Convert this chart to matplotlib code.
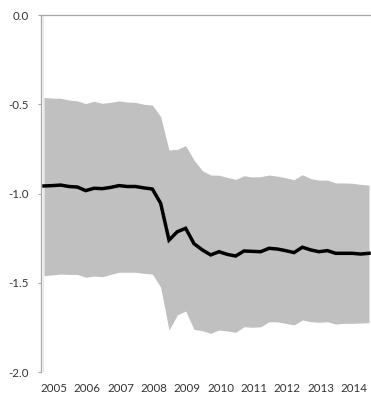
import numpy as np
import matplotlib
matplotlib.use("Agg")
import matplotlib.pyplot as plt

# Quarterly estimates with an uncertainty band
central = [-0.957, -0.955, -0.952, -0.960, -0.963, -0.983, -0.970, -0.972, -0.965, -0.955,
           -0.960, -0.960, -0.968, -0.974, -1.054, -1.260, -1.213, -1.194, -1.280, -1.315,
           -1.343, -1.325, -1.340, -1.349, -1.321, -1.323, -1.325, -1.306, -1.310, -1.319,
           -1.330, -1.300, -1.315, -1.325, -1.319, -1.334, -1.334, -1.334, -1.338, -1.334]
upper = [-0.461, -0.465, -0.466, -0.476, -0.481, -0.496, -0.483, -0.494, -0.489, -0.481,
         -0.487, -0.489, -0.500, -0.504, -0.569, -0.756, -0.752, -0.731, -0.812, -0.871,
         -0.896, -0.897, -0.909, -0.920, -0.900, -0.907, -0.905, -0.896, -0.902, -0.911,
         -0.922, -0.894, -0.916, -0.924, -0.924, -0.940, -0.940, -0.942, -0.948, -0.952]
lower = [-1.459, -1.455, -1.450, -1.452, -1.452, -1.468, -1.461, -1.465, -1.452, -1.440,
         -1.440, -1.440, -1.446, -1.450, -1.524, -1.763, -1.679, -1.657, -1.760, -1.767,
         -1.782, -1.763, -1.769, -1.776, -1.745, -1.748, -1.745, -1.717, -1.718, -1.726,
         -1.735, -1.707, -1.717, -1.720, -1.717, -1.730, -1.726, -1.726, -1.724, -1.722]
years = ["2005", "2006", "2007", "2008", "2009", "2010", "2011", "2012", "2013", "2014"]
y_ticks = [0.0, -0.5, -1.0, -1.5, -2.0]

plt.rcParams["font.family"] = ["Lato", "DejaVu Sans"]

W, H = 371, 396
fig = plt.figure(figsize=(W / 100, H / 100), dpi=100)
ax = fig.add_axes([41 / W, (H - 372.3) / H, 1 - 41 / W, (372.3 - 15) / H])

x = np.arange(len(central))
ax.fill_between(x, lower, upper, color="#c0c0c0", linewidth=0, zorder=1)
ax.plot(x, central, color="black", linewidth=2.5, solid_joinstyle="miter", zorder=3)
ax.axvline(-0.08, color="#e6e6e6", linewidth=0.8, zorder=0)

ax.set_xlim(-0.36, 39.24)
ax.set_ylim(-2.0, 0.0)

tick_pos = np.arange(len(years)) * 4 + 1.2
ax.set_xticks(tick_pos)
ax.set_xticklabels(years)
ax.set_yticks(y_ticks)
ax.set_yticklabels([f"{v:.1f}" for v in y_ticks])

label_color = "#333333"
axis_color = "#a6a6a6"
ax.tick_params(axis="x", length=0, pad=8, labelsize=8.3, colors=label_color)
ax.tick_params(axis="y", length=2.5, width=0.8, pad=6, labelsize=8.3,
               colors=axis_color, labelcolor=label_color)

for side in ("right", "bottom"):
    ax.spines[side].set_visible(False)
for side in ("left", "top"):
    ax.spines[side].set_color(axis_color)
    ax.spines[side].set_linewidth(0.9)

fig.savefig("out.png", dpi=100)
